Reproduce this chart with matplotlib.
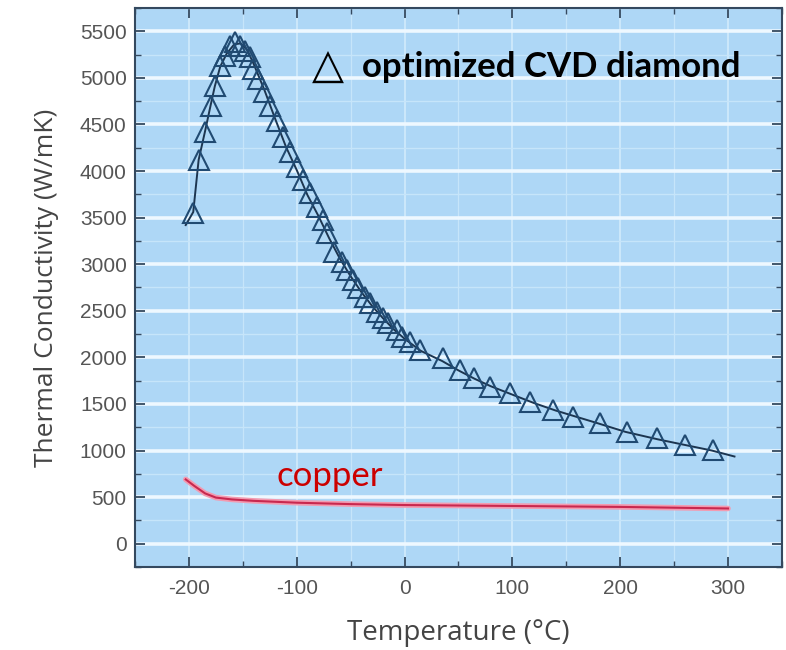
import matplotlib.pyplot as plt
from matplotlib.ticker import MultipleLocator

plt.rcParams['axes.unicode_minus'] = False

# optimized CVD diamond, measured points (temperature in C, conductivity in W/mK)
diamond_temp = [-196, -191, -185, -180, -176, -171, -167, -162, -157, -153, -148,
                -143, -141, -136, -130, -125, -118, -113, -106, -100, -94, -88,
                -81, -76, -72, -65, -58, -53, -48, -43, -37, -32, -26, -20, -15,
                -7, -2, 5, 14, 36, 51, 64, 79, 98, 116, 138, 156, 181, 206, 234,
                260, 286]
diamond_k = [3552, 4123, 4424, 4693, 4908, 5124, 5231, 5339, 5382, 5339, 5285,
             5221, 5091, 4984, 4844, 4693, 4532, 4370, 4209, 4047, 3907, 3767,
             3617, 3477, 3337, 3132, 3025, 2939, 2831, 2745, 2648, 2583, 2487,
             2422, 2368, 2293, 2217, 2164, 2078, 1991, 1862, 1776, 1679, 1615,
             1518, 1432, 1356, 1292, 1195, 1130, 1055, 1001]

# fitted curve through the diamond data
curve_temp = [-203, -196, -191, -185, -180, -176, -171, -165, -158, -152, -146,
              -140, -130, -120, -110, -100, -90, -80, -70, -60, -50, -40, -30,
              -20, -10, 0, 15, 35, 50, 65, 80, 100, 120, 140, 160, 180, 205, 235,
              260, 285, 306]
curve_k = [3420, 3560, 4120, 4430, 4700, 4910, 5120, 5260, 5360, 5370, 5300,
           5150, 4870, 4560, 4260, 4010, 3740, 3520, 3280, 3060, 2870, 2700,
           2550, 2420, 2300, 2200, 2070, 1960, 1860, 1770, 1690, 1600, 1510,
           1430, 1360, 1290, 1200, 1120, 1060, 1000, 936]

# copper reference
copper_temp = [-203, -195, -185, -175, -160, -140, -100, -50, 0, 100, 200, 300]
copper_k = [690, 620, 540, 495, 475, 460, 440, 425, 415, 405, 395, 378]

xticks = [-200, -100, 0, 100, 200, 300]
yticks = [0, 500, 1000, 1500, 2000, 2500, 3000, 3500, 4000, 4500, 5000, 5500]

fig = plt.figure(figsize=(7.86, 6.5), dpi=100)
ax = fig.add_axes([0.1718, 0.1277, 0.823, 0.86])
ax.set_facecolor('#aed7f6')

ax.set_xlim(-250, 350)
ax.set_ylim(-250, 5750)
ax.set_xticks(xticks)
ax.set_yticks(yticks)
ax.xaxis.set_minor_locator(MultipleLocator(50))
ax.yaxis.set_minor_locator(MultipleLocator(250))

# grid: bright horizontal majors, faint everything else
ax.grid(axis='y', which='major', color='#eef8ff', lw=2.6, zorder=0)
ax.grid(axis='y', which='minor', color='#c6e5fa', lw=1.0, zorder=0)
ax.grid(axis='x', which='major', color='#d2ebfb', lw=1.2, zorder=0)
ax.grid(axis='x', which='minor', color='#c6e5fa', lw=0.9, zorder=0)
ax.set_axisbelow(True)

for s in ax.spines.values():
    s.set_color('#34495f')
    s.set_linewidth(1.5)

ax.tick_params(which='both', direction='in', top=True, right=True,
               color='#34495f', labelcolor='#555555', labelsize=15)
ax.tick_params(axis='x', pad=9)
ax.tick_params(axis='y', pad=6)
ax.tick_params(which='major', length=7, width=1.3)
ax.tick_params(which='minor', length=4, width=1.0)
for lab in ax.get_xticklabels() + ax.get_yticklabels():
    lab.set_family('Liberation Sans')

# copper: soft pink halo under a darker red core
ax.plot(copper_temp, copper_k, color='#f39ab0', lw=4.0, solid_capstyle='round', zorder=2)
ax.plot(copper_temp, copper_k, color='#c8284f', lw=1.5, zorder=3)

ax.plot(curve_temp, curve_k, color='#1c3550', lw=1.4, zorder=3)
ax.plot(diamond_temp, diamond_k, ls='none', marker='^', ms=14, mfc='none',
        mec='#204a72', mew=1.5, zorder=4)

ax.text(-86, 4990, '\u25b3', fontsize=30, family='DejaVu Sans', color='black',
        va='baseline', ha='left')
ax.text(-39.5, 5005, 'optimized CVD diamond', fontsize=25, family='Lato',
        fontweight='bold', color='black', va='baseline', ha='left')
ax.text(-118.4, 624, 'copper', fontsize=25, family='Lato', color='#cc0000',
        va='baseline', ha='left')

ax.set_xlabel('Temperature (\u00b0C)', family='Open Sans', fontsize=20,
              color='#444444', labelpad=15)
ax.set_ylabel('Thermal Conductivity (W/mK)', family='Open Sans', fontsize=19,
              color='#444444', labelpad=15)

plt.savefig('out.png', dpi=100)
